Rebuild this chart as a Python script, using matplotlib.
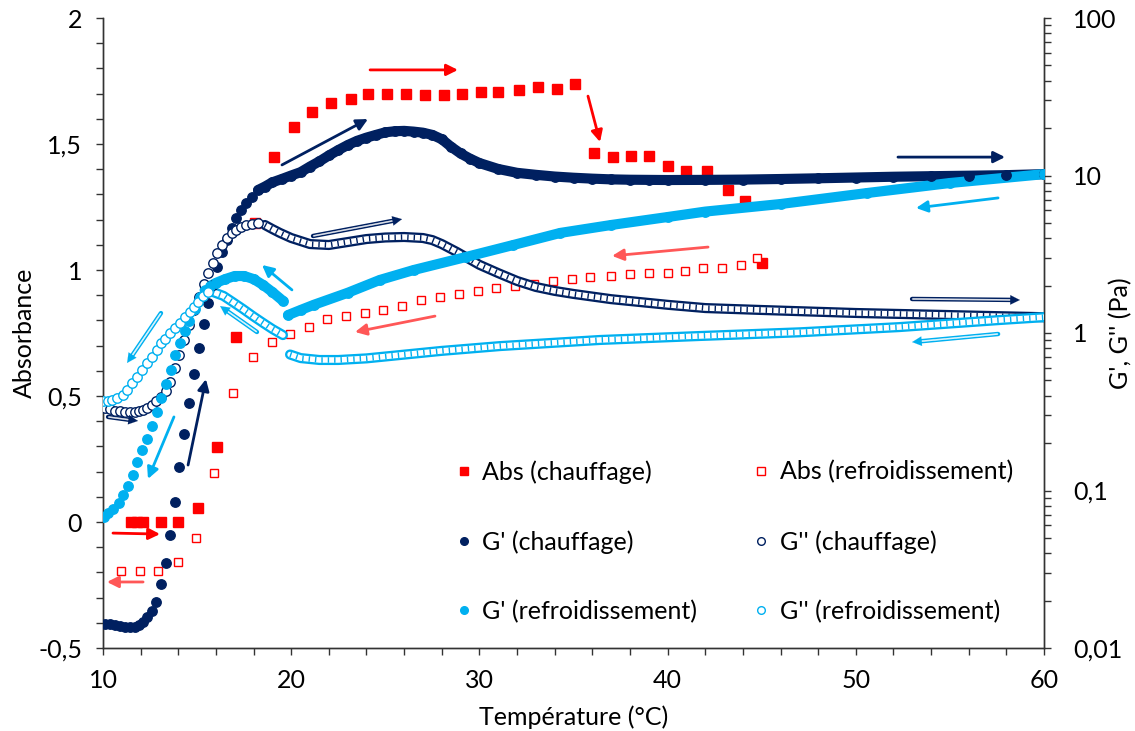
import matplotlib.pyplot as plt
from matplotlib.ticker import MultipleLocator, FuncFormatter, LogLocator, NullFormatter
from matplotlib.lines import Line2D

plt.rcParams['font.family'] = ['Lato', 'DejaVu Sans']
plt.rcParams['font.size'] = 18

NAVY = '#002060'
CYAN = '#00B0F0'
RED = '#FF0000'
SALMON = '#FF5757'

# absorbance, heating (filled squares) and cooling (open squares)
abs_heat_T = [11.5, 11.8, 12.1, 13.1, 14.0, 15.05, 16.05, 17.05, 18.05, 19.1,
              20.15, 21.1, 22.1, 23.2, 24.1, 25.1, 26.1, 27.1, 28.1, 29.1,
              30.1, 31.0, 32.1, 33.1, 34.1, 35.1, 36.1, 37.1, 38.05, 39.0,
              40.0, 41.0, 42.1, 43.2, 44.1, 45.0]
abs_heat = [0.0, 0.0, 0.0, 0.0, 0.0, 0.056, 0.298, 0.734, 1.187, 1.448,
            1.567, 1.627, 1.663, 1.679, 1.698, 1.698, 1.698, 1.694, 1.694, 1.698,
            1.706, 1.706, 1.714, 1.726, 1.718, 1.738, 1.464, 1.448, 1.452, 1.452,
            1.413, 1.393, 1.393, 1.317, 1.274, 1.028]

abs_cool_T = [10.95, 11.97, 12.93, 13.99, 14.94, 15.9, 16.9, 17.97, 18.98, 19.94,
              20.95, 21.9, 22.9, 23.9, 24.9, 25.9, 26.9, 27.9, 28.9, 29.9,
              30.9, 31.9, 32.9, 33.9, 34.9, 35.9, 37.0, 38.0, 39.0, 40.0,
              40.9, 41.9, 42.9, 43.9, 44.75]
abs_cool = [-0.194, -0.194, -0.194, -0.159, -0.063, 0.194, 0.512, 0.655, 0.714, 0.748,
            0.772, 0.804, 0.819, 0.829, 0.843, 0.857, 0.879, 0.891, 0.905, 0.917,
            0.929, 0.937, 0.944, 0.956, 0.964, 0.972, 0.976, 0.984, 0.988, 0.988,
            0.996, 1.008, 1.008, 1.020, 1.048]

# G' and G'' heating (Pa)
heat_T = [10.1, 10.37, 10.64, 10.9, 11.17, 11.43, 11.7, 11.9, 12.13, 12.34,
          12.6, 12.82, 13.08, 13.35, 13.56, 13.83, 14.04, 14.3, 14.57, 14.84,
          15.1, 15.37, 15.58, 15.85, 16.06, 16.32, 16.59, 16.85, 17.07, 17.33,
          17.6, 17.92, 18.24]
gp_heat_T = heat_T + [18.6, 19.0, 19.5, 20.0, 20.5, 21.0, 21.5, 22.0, 22.5, 23.0,
                      23.5, 24.0, 24.5, 25.0, 25.5, 26.0, 26.5, 27.0, 27.5, 28.0,
                      28.5, 29.0, 29.5, 30.0, 31.0, 32.0, 33.0, 34.0, 35.0, 36.0,
                      37.0, 38.0, 39.0, 40.0, 42.0, 44.0, 46.0, 48.0, 50.0, 52.0,
                      54.0, 56.0, 58.0, 60.0]
gp_heat = [0.0142, 0.0142, 0.0140, 0.0138, 0.0136, 0.0136, 0.0136, 0.0140, 0.0146, 0.0157,
           0.0172, 0.0196, 0.0255, 0.0347, 0.0521, 0.0845, 0.141, 0.229, 0.36, 0.55,
           0.80, 1.14, 1.55, 2.02, 2.63, 3.27, 3.89, 4.64, 5.37, 6.04,
           6.69, 7.30, 8.09,
           8.5, 9.05, 9.5, 10.0, 10.5, 11.4, 12.3, 13.4, 14.5, 15.6,
           16.6, 17.4, 18.1, 18.8, 19.1, 19.2, 19.0, 18.7, 18.1, 17.0,
           15.2, 13.8, 12.8, 12.0, 11.0, 10.4, 10.1, 9.85, 9.68, 9.55,
           9.45, 9.4, 9.38, 9.36, 9.38, 9.42, 9.5, 9.6, 9.71, 9.82,
           9.9, 9.97, 10.05, 10.2]

gpp_heat_T = heat_T + [18.6, 19.0, 19.4, 20.0, 21.0, 22.0, 23.0, 24.0, 25.0, 26.0,
                       27.0, 27.5, 28.0, 28.8, 30.0, 31.0, 32.0, 33.0, 34.0, 35.0,
                       37.0, 40.0, 42.0, 45.0, 50.0, 55.0, 60.0]
gpp_heat = [0.334, 0.329, 0.320, 0.318, 0.315, 0.315, 0.315, 0.318, 0.325, 0.335,
            0.35, 0.37, 0.395, 0.429, 0.489, 0.60, 0.725, 0.903, 1.12, 1.40,
            1.69, 2.05, 2.40, 2.78, 3.22, 3.62, 4.01, 4.32, 4.51, 4.71,
            4.85, 4.92, 4.99,
            4.85, 4.57, 4.32, 4.01, 3.67, 3.62, 3.78, 3.95, 4.04, 4.07,
            4.01, 3.89, 3.67, 3.27, 2.71, 2.40, 2.14, 1.96, 1.85, 1.77,
            1.64, 1.51, 1.44, 1.40, 1.34, 1.30, 1.26]

# G' and G'' cooling (Pa)
gp_cool_T = [10.05, 10.27, 10.53, 10.85, 11.06, 11.33, 11.59, 11.8, 12.07, 12.34,
             12.6, 12.87, 13.08, 13.35, 13.61, 13.83, 14.09, 14.36, 14.57, 14.89,
             15.15, 15.4, 15.7, 16.0, 16.5, 17.0, 17.5, 18.0, 18.5, 19.0,
             19.56, 19.83, 20.5, 21.2, 23.0, 24.7, 26.5, 29.3, 31.8, 34.3,
             37.0, 40.0, 42.0, 46.0, 50.6, 55.0, 60.0]
gp_cool = [0.0679, 0.072, 0.0763, 0.0833, 0.0936, 0.107, 0.125, 0.152, 0.181, 0.212,
           0.257, 0.315, 0.386, 0.474, 0.582, 0.725, 0.864, 1.03, 1.20, 1.43,
           1.70, 1.87, 1.99, 2.08, 2.20, 2.30, 2.30, 2.20, 2.02, 1.82,
           1.60, 1.30, 1.40, 1.51, 1.80, 2.17, 2.51, 3.04, 3.62, 4.32,
           4.85, 5.45, 5.9, 6.59, 7.74, 8.96, 10.2]

gpp_cool_T = [10.0, 10.24, 10.5, 10.74, 11.04, 11.28, 11.54, 11.81, 12.07, 12.34,
              12.6, 12.87, 13.08, 13.29, 13.56, 13.83, 14.09, 14.36, 14.6, 14.84,
              15.05, 15.31, 15.58, 15.85, 16.4, 16.9, 17.44, 17.97, 18.5, 19.0,
              19.56, 19.94, 20.5, 21.5, 22.5, 24.0, 25.8, 28.0, 31.1, 36.4,
              41.7, 47.0, 52.3, 57.7, 60.0]
gpp_cool = [0.370, 0.370, 0.377, 0.387, 0.404, 0.435, 0.482, 0.526, 0.582, 0.645,
            0.705, 0.780, 0.865, 0.917, 1.0, 1.077, 1.16, 1.26, 1.36, 1.46,
            1.57, 1.72, 1.82, 1.82, 1.72, 1.57, 1.42, 1.28, 1.16, 1.06,
            0.97, 0.73, 0.693, 0.674, 0.674, 0.69, 0.725, 0.77, 0.826, 0.903,
            0.957, 1.01, 1.09, 1.21, 1.26]

labels = ["Abs (chauffage)", "G' (chauffage)", "G' (refroidissement)",
          "Abs (refroidissement)", "G'' (chauffage)", "G'' (refroidissement)"]

# direction arrows (T, absorbance) start -> end, colour, double line
arrows = [
    ((24.19, 1.794), (28.86, 1.794), RED, False),
    ((35.77, 1.690), (36.41, 1.508), RED, False),
    ((19.51, 1.417), (24.08, 1.599), NAVY, False),
    ((21.16, 1.135), (25.89, 1.202), NAVY, True),
    ((57.56, 1.286), (53.20, 1.246), CYAN, False),
    ((52.24, 1.448), (57.93, 1.448), NAVY, False),
    ((52.99, 0.885), (58.72, 0.881), NAVY, True),
    ((57.56, 0.746), (52.99, 0.714), CYAN, True),
    ((42.15, 1.091), (37.05, 1.056), SALMON, False),
    ((27.64, 0.817), (23.39, 0.754), SALMON, False),
    ((20.04, 0.921), (18.45, 1.020), CYAN, False),
    ((18.18, 0.754), (16.22, 0.857), CYAN, True),
    ((14.52, 0.226), (15.47, 0.567), NAVY, False),
    ((13.77, 0.417), (12.39, 0.171), CYAN, False),
    ((13.08, 0.829), (11.28, 0.631), CYAN, True),
    ((10.27, 0.417), (11.86, 0.401), NAVY, True),
    ((10.53, -0.044), (13.03, -0.048), RED, False),
    ((12.13, -0.238), (10.21, -0.238), SALMON, False),
]


def fmt(v, pos):
    return ('%g' % v).replace('.', ',')


def in_ranges(t, ranges):
    return any(lo <= t <= hi for lo, hi in ranges)


def draw_series(axis, T, V, ranges, color, hollow):
    # dense parts of the record drawn as a band, sparse points as markers
    for lo, hi in ranges:
        xs = [t for t in T if lo <= t <= hi]
        ys = [v for t, v in zip(T, V) if lo <= t <= hi]
        axis.plot(xs, ys, color=color, lw=7.3, solid_capstyle='round', zorder=3)
        if hollow:
            axis.plot(xs, ys, color='white', lw=4.0, solid_capstyle='round', zorder=3)
            axis.plot(xs, ys, color=color, lw=4.0, ls=(0, (0.25, 0.9)), zorder=3)
    if hollow:
        pts = [(t, v) for t, v in zip(T, V) if not in_ranges(t, ranges)]
    else:
        pts = list(zip(T, V))
    axis.plot([p[0] for p in pts], [p[1] for p in pts], 'o', ls='none', ms=6.8,
              mfc='white' if hollow else color, mec=color, mew=1.0, zorder=4)


fig = plt.figure(figsize=(11.35, 7.31), dpi=100)
ax = fig.add_axes([103 / 1135, 83 / 731, 941 / 1135, 630 / 731])
ax2 = ax.twinx()

ax.plot(abs_heat_T, abs_heat, 's', ls='none', ms=6.5, color=RED, zorder=3)
ax.plot(abs_cool_T, abs_cool, 's', ls='none', ms=6.3, mfc='white', mec=RED, mew=1.0, zorder=3)

draw_series(ax2, gp_heat_T, gp_heat, [(18.2, 60)], NAVY, False)
draw_series(ax2, gpp_heat_T, gpp_heat, [(18.5, 60)], NAVY, True)
draw_series(ax2, gp_cool_T, gp_cool, [(15.3, 19.6), (19.8, 60)], CYAN, False)
draw_series(ax2, gpp_cool_T, gpp_cool, [(15.8, 19.6), (19.9, 60)], CYAN, True)

for (x0, y0), (x1, y1), c, double in arrows:
    if double:
        ax2.annotate('', xy=(x1, y1), xytext=(x0, y0), xycoords=ax.transData,
                     textcoords=ax.transData,
                     arrowprops=dict(arrowstyle='-', color=c, lw=3.2, shrinkA=0, shrinkB=6))
        ax2.annotate('', xy=(x1, y1), xytext=(x0, y0), xycoords=ax.transData,
                     textcoords=ax.transData,
                     arrowprops=dict(arrowstyle='-', color='white', lw=1.1, shrinkA=0.5, shrinkB=7))
        ax2.annotate('', xy=(x1, y1), xytext=(x0, y0), xycoords=ax.transData,
                     textcoords=ax.transData,
                     arrowprops=dict(arrowstyle='-|>', color=c, lw=0.1, mutation_scale=17,
                                     shrinkA=0, shrinkB=0), zorder=6)
    else:
        ax2.annotate('', xy=(x1, y1), xytext=(x0, y0), xycoords=ax.transData,
                     textcoords=ax.transData,
                     arrowprops=dict(arrowstyle='-|>', color=c, lw=2.0, mutation_scale=17,
                                     shrinkA=0, shrinkB=0), zorder=6)

ax.set_xlim(10, 60)
ax.set_ylim(-0.5, 2)
ax2.set_yscale('log')
ax2.set_ylim(0.01, 100)

ax.xaxis.set_major_locator(MultipleLocator(10))
ax.xaxis.set_minor_locator(MultipleLocator(2))
ax.yaxis.set_major_locator(MultipleLocator(0.5))
ax.yaxis.set_minor_locator(MultipleLocator(0.1))
ax.yaxis.set_major_formatter(FuncFormatter(fmt))
ax2.yaxis.set_major_locator(LogLocator(base=10))
ax2.yaxis.set_minor_locator(LogLocator(base=10, subs=range(2, 10)))
ax2.yaxis.set_major_formatter(FuncFormatter(fmt))
ax2.yaxis.set_minor_formatter(NullFormatter())

ax.tick_params(axis='both', which='both', direction='out', length=5, width=1, color='#333333')
ax.tick_params(axis='x', which='major', pad=10)
ax.tick_params(axis='y', which='major', pad=10)
ax2.tick_params(axis='y', which='both', direction='out', length=5, width=1, color='#333333', pad=16)

for a in (ax, ax2):
    a.spines['top'].set_visible(False)
    for s in ('left', 'right', 'bottom'):
        a.spines[s].set_color('#333333')
        a.spines[s].set_linewidth(1)

ax.set_xlabel('Température (°C)', va='center')
ax.xaxis.set_label_coords(0.5, -0.11)
ax.set_ylabel('Absorbance', va='center')
ax.yaxis.set_label_coords(-0.083, 0.5)
ax2.set_ylabel("G', G'' (Pa)", va='center', rotation=90)
ax2.yaxis.set_label_coords(1.081, 0.5)

handles = [
    Line2D([], [], marker='s', ls='none', ms=6, color=RED),
    Line2D([], [], marker='o', ls='none', ms=5.5, color=NAVY),
    Line2D([], [], marker='o', ls='none', ms=5.5, color=CYAN),
    Line2D([], [], marker='s', ls='none', ms=6, mfc='white', mec=RED, mew=1),
    Line2D([], [], marker='o', ls='none', ms=5.5, mfc='white', mec=NAVY, mew=1),
    Line2D([], [], marker='o', ls='none', ms=5.5, mfc='white', mec=CYAN, mew=1),
]
ax2.legend(handles, labels, ncol=2, loc='upper left', bbox_to_anchor=(0.362, 0.318),
           frameon=False, labelspacing=1.85, columnspacing=2.25, handlelength=0.6,
           handletextpad=0.45, borderpad=0)

fig.savefig('out.png', dpi=100)
